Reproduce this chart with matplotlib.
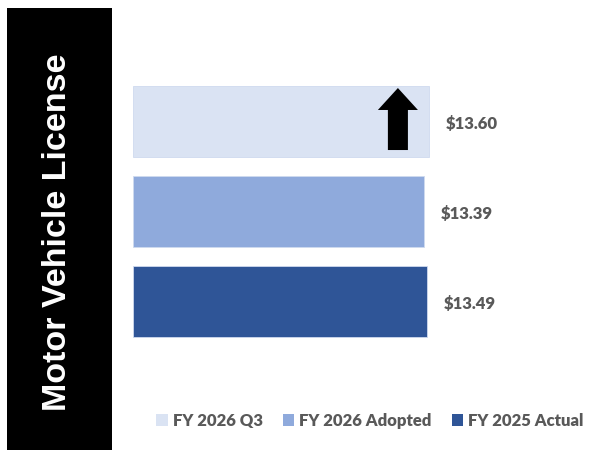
import matplotlib
matplotlib.use("Agg")
import matplotlib.pyplot as plt
from matplotlib.patches import Rectangle, Patch, FancyArrow

# data
series = ["FY 2026 Q3", "FY 2026 Adopted", "FY 2025 Actual"]
values = [13.60, 13.39, 13.49]
colors = ["#DAE3F3", "#8FAADC", "#2F5597"]
title = "Motor Vehicle License"

fig = plt.figure(figsize=(5.89, 4.54), dpi=100)

# black side panel with rotated title
fig.patches.append(Rectangle((7 / 589, 4 / 454), 105 / 589, 442 / 454,
                             transform=fig.transFigure, facecolor="black",
                             edgecolor="none", zorder=0))
fig.text(58 / 589, 0.489, title, rotation=90, color="white", fontsize=24.5,
         fontweight="bold", family="Liberation Sans", ha="center", va="center")

ax = fig.add_axes([133 / 589, 107.5 / 454, 326.5 / 589, 270 / 454])
pos = list(range(len(values)))
ax.barh(pos, values, height=0.79, color=colors, edgecolor="#cfdaef", linewidth=0.6)
ax.set_xlim(0, 15)
ax.set_ylim(2.5, -0.5)
ax.axis("off")

for p, v in zip(pos, values):
    ax.annotate(f"${v:.2f}", (v, p), xytext=(12, -2), textcoords="offset points",
                ha="left", va="center", fontsize=12, fontweight="heavy",
                color="#595959", family="Lato")

# up arrow in the top bar
ax.add_patch(FancyArrow(12.17, 0.317, 0, -0.689, width=0.92, head_width=1.84,
                        head_length=0.244, length_includes_head=True,
                        color="black", linewidth=0, zorder=3))

handles = [Patch(facecolor=c, edgecolor="none") for c in colors]
fig.legend(handles, series, loc="center", ncol=3, frameon=False,
           bbox_to_anchor=(370 / 589, 1 - 421 / 454),
           prop={"family": "Lato", "weight": "heavy", "size": 12},
           labelcolor="#595959", handlelength=0.7, handleheight=0.7,
           handletextpad=0.3, columnspacing=1.2)

fig.savefig("out.png", dpi=100)
